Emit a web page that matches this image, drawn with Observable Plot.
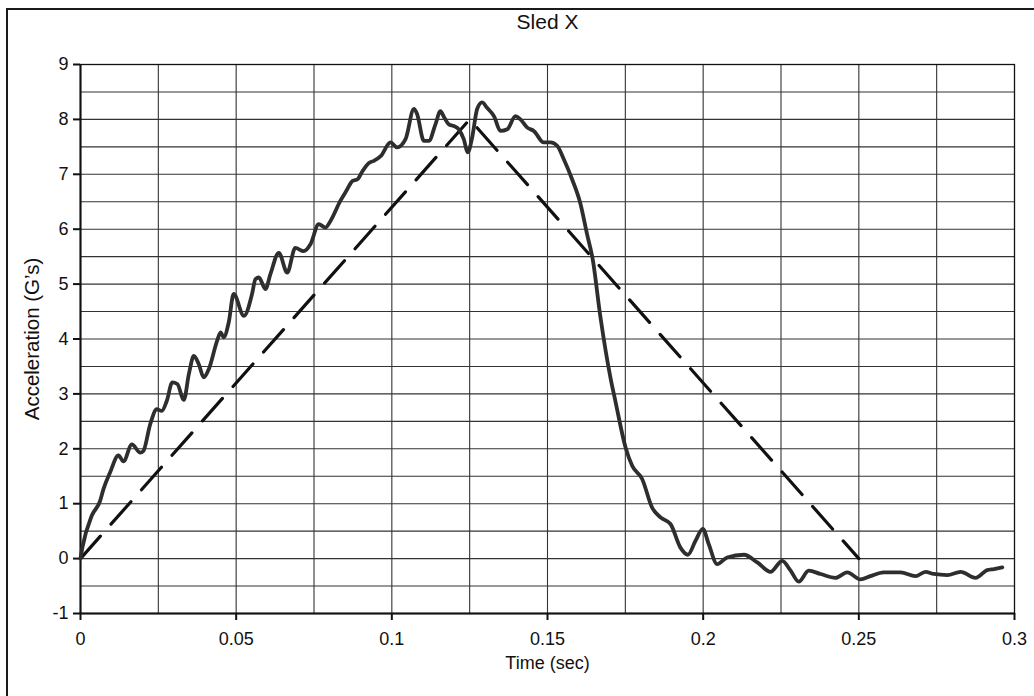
<!DOCTYPE html>
<html>
<head>
<meta charset="utf-8">
<script src="https://cdn.jsdelivr.net/npm/d3@7"></script>
<script src="https://cdn.jsdelivr.net/npm/@observablehq/plot@0.6"></script>
<style>
  html, body { margin: 0; padding: 0; background: #fff; overflow: hidden; }
  #wrap { position: relative; width: 1034px; height: 696px; }
  #border { position: absolute; left: 6px; top: 8px; width: 1100px; height: 800px;
            border-left: 2px solid #1a1a1a; border-top: 2px solid #1a1a1a; pointer-events: none; }
</style>
</head>
<body>
<div id="wrap"><div id="border"></div></div>
<script>
// Measured sled acceleration (Time in sec, Acceleration in G's)
const timeSec = [
  0, 0.0006, 0.0036, 0.0063, 0.0074, 0.0095, 0.0122, 0.0138, 0.0165, 0.0192,
  0.0202, 0.0224, 0.0245, 0.0261, 0.0277, 0.0295, 0.0311, 0.0332, 0.0348, 0.0364,
  0.0380, 0.0396, 0.0412, 0.0439, 0.0450, 0.0460, 0.0476, 0.0492, 0.0525, 0.0551,
  0.0562, 0.0573, 0.0594, 0.0610, 0.0637, 0.0664, 0.0690, 0.0717, 0.0739, 0.0765,
  0.0787, 0.0803, 0.0835, 0.0854, 0.0874, 0.0890, 0.0906, 0.0925, 0.0944, 0.0964,
  0.0996, 0.1017, 0.1044, 0.1071, 0.1081, 0.1103, 0.1119, 0.1140, 0.1156, 0.1167,
  0.1183, 0.1199, 0.1215, 0.1231, 0.1244, 0.1258, 0.1274, 0.1290, 0.1306, 0.1328,
  0.1349, 0.1371, 0.1397, 0.1413, 0.1435, 0.1456, 0.1488, 0.1510, 0.1531, 0.1552,
  0.1579, 0.1606, 0.1627, 0.1645, 0.1670, 0.1702, 0.1718, 0.1751, 0.1772, 0.1804,
  0.1836, 0.1863, 0.1895, 0.1927, 0.1951, 0.1975, 0.1999, 0.2018, 0.2045, 0.2077,
  0.2131, 0.2174, 0.2216, 0.2254, 0.2281, 0.2307, 0.2339, 0.2377, 0.2425, 0.2463,
  0.2505, 0.2537, 0.2580, 0.2634, 0.2682, 0.2714, 0.2741, 0.2784, 0.2827, 0.2875,
  0.2912, 0.2934, 0.2961
];
const accelG = [
  0, 0.20, 0.78, 1.05, 1.27, 1.57, 1.88, 1.77, 2.08, 1.93,
  1.96, 2.45, 2.72, 2.69, 2.87, 3.21, 3.18, 2.89, 3.36, 3.69,
  3.54, 3.30, 3.45, 3.97, 4.12, 4.03, 4.30, 4.82, 4.42, 4.82,
  5.09, 5.12, 4.91, 5.18, 5.57, 5.21, 5.66, 5.60, 5.73, 6.09,
  6.03, 6.15, 6.52, 6.70, 6.88, 6.91, 7.06, 7.20, 7.25, 7.33,
  7.58, 7.49, 7.64, 8.19, 8.10, 7.61, 7.61, 7.91, 8.15, 8.05,
  7.91, 7.88, 7.82, 7.64, 7.40, 7.67, 8.19, 8.31, 8.21, 8.06,
  7.79, 7.82, 8.06, 8.00, 7.85, 7.79, 7.58, 7.58, 7.52, 7.28,
  6.91, 6.46, 5.91, 5.46, 4.40, 3.30, 2.87, 2.02, 1.69, 1.45,
  0.93, 0.75, 0.63, 0.20, 0.07, 0.32, 0.54, 0.26, -0.10, 0.02,
  0.07, -0.07, -0.24, -0.04, -0.22, -0.42, -0.22, -0.28, -0.35, -0.25,
  -0.38, -0.32, -0.25, -0.25, -0.32, -0.24, -0.28, -0.30, -0.24, -0.35,
  -0.21, -0.19, -0.16
];
// Idealised triangular pulse (dashed)
const pulseTime = [0, 0.125, 0.25];
const pulseAccel = [0, 8, 0];

// Axes
const xTicks = [0, 0.05, 0.1, 0.15, 0.2, 0.25, 0.3];
const xTickLabels = ["0", "0.05", "0.1", "0.15", "0.2", "0.25", "0.3"];
const xGrid = [0.025, 0.05, 0.075, 0.1, 0.125, 0.15, 0.175, 0.2, 0.225, 0.25, 0.275];
const yTicks = [-1, 0, 1, 2, 3, 4, 5, 6, 7, 8, 9];
const yTickLabels = ["-1", "0", "1", "2", "3", "4", "5", "6", "7", "8", "9"];
const yGrid = [-0.5, 0, 0.5, 1, 1.5, 2, 2.5, 3, 3.5, 4, 4.5, 5, 5.5, 6, 6.5, 7, 7.5, 8, 8.5, 9];

const chartTitle = "Sled X";
const xLabel = "Time (sec)";
const yLabel = "Acceleration (G\u2019s)";

const measured = timeSec.map((t, i) => ({t, a: accelG[i]}));
const pulse = pulseTime.map((t, i) => ({t, a: pulseAccel[i]}));

const chart = Plot.plot({
  width: 1034,
  height: 696,
  marginLeft: 80,
  marginRight: 20,
  marginTop: 64,
  marginBottom: 83,
  style: {fontFamily: "'Liberation Sans', Arial, sans-serif", fontSize: "18px", color: "#111", background: "transparent"},
  x: {domain: [0, 0.3]},
  y: {domain: [-1, 9]},
  marks: [
    Plot.gridX(xGrid, {stroke: "#333", strokeOpacity: 1, strokeWidth: 1.1}),
    Plot.gridY(yGrid, {stroke: "#333", strokeOpacity: 1, strokeWidth: 1.1}),
    Plot.frame({stroke: "#111", strokeWidth: 1.3}),
    Plot.ruleX([0], {stroke: "#111", strokeWidth: 2}),
    Plot.ruleY([-1], {stroke: "#111", strokeWidth: 2}),
    Plot.axisX(xTicks, {tickSize: 7, tickPadding: 12, strokeWidth: 2, label: null, fontSize: 18,
      tickFormat: (d, i) => xTickLabels[i]}),
    Plot.axisY(yTicks, {tickSize: 7, tickPadding: 5, strokeWidth: 2, label: null, fontSize: 18,
      tickFormat: (d, i) => yTickLabels[i]}),
    Plot.line(pulse, {x: "t", y: "a", stroke: "#111", strokeWidth: 3.2, strokeDasharray: "30,16"}),
    Plot.line(measured, {x: "t", y: "a", stroke: "#2e2e2e", strokeWidth: 3.8, curve: "monotone-x"}),
    Plot.text([chartTitle], {frameAnchor: "top", dy: -42, lineAnchor: "middle", fontSize: 21, fill: "#111"}),
    Plot.text([xLabel], {frameAnchor: "bottom", dy: 50, lineAnchor: "middle", fontSize: 18, fill: "#111"}),
    Plot.text([yLabel], {frameAnchor: "left", dx: -48, rotate: -90, textAnchor: "middle", lineAnchor: "middle", fontSize: 20.5, fill: "#111"})
  ]
});
document.getElementById("wrap").prepend(chart);
</script>
</body>
</html>
